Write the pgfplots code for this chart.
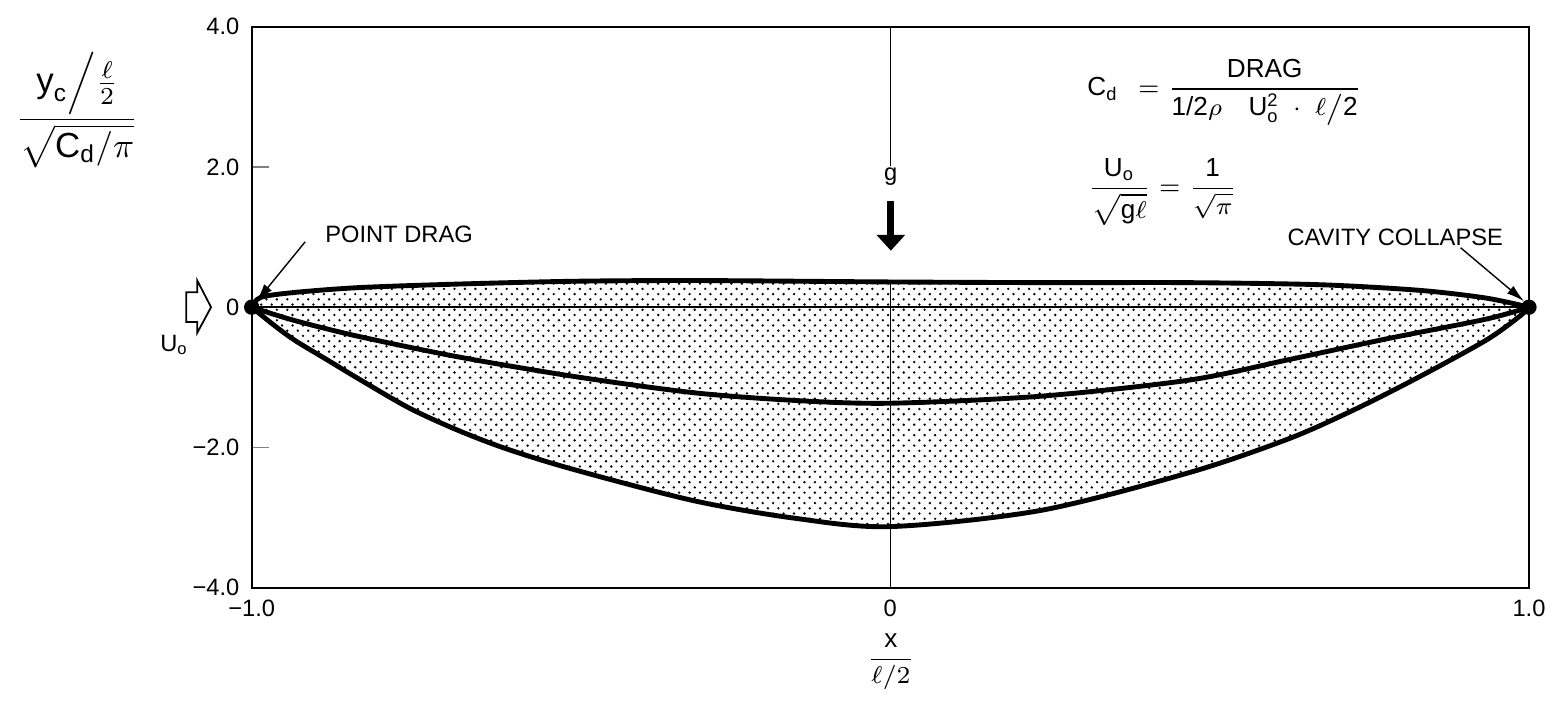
\documentclass[border=0pt]{standalone}
\usepackage{amsmath}
\usepackage{fontspec}
\setmainfont{Liberation Sans}
\usepackage{pgfplots}
\pgfplotsset{compat=1.18}
\usepackage{pgfplotstable}
\usepgfplotslibrary{fillbetween}
\usetikzlibrary{patterns,arrows.meta}

\pgfdeclarepatternformonly{finedots}{\pgfqpoint{-0.5pt}{-0.5pt}}{\pgfqpoint{2pt}{2pt}}{\pgfqpoint{3pt}{3pt}}{%
  \pgfpathcircle{\pgfqpoint{0pt}{0pt}}{0.38pt}%
  \pgfpathcircle{\pgfqpoint{1.5pt}{1.5pt}}{0.38pt}%
  \pgfusepath{fill}}

\pgfplotstableread{
x y
-1 0
-0.986 0.14
-0.933 0.21
-0.831 0.28
-0.676 0.33
-0.494 0.37
-0.3 0.38
0 0.36
0.25 0.35
0.468 0.35
0.674 0.32
0.829 0.24
0.933 0.13
1 0
}\uppercurve

\pgfplotstableread{
x y
-1 0
-0.933 -0.19
-0.831 -0.42
-0.676 -0.71
-0.494 -0.99
-0.308 -1.22
-0.15 -1.33
0 -1.37
0.235 -1.27
0.468 -1.04
0.623 -0.75
0.778 -0.45
0.933 -0.17
1 0
}\midcurve

\pgfplotstableread{
x y
-1 0
-0.966 -0.25
-0.933 -0.47
-0.882 -0.75
-0.831 -1.03
-0.753 -1.44
-0.676 -1.76
-0.598 -2.03
-0.494 -2.32
-0.308 -2.76
-0.15 -3.01
0 -3.13
0.235 -2.90
0.468 -2.36
0.623 -1.88
0.727 -1.46
0.829 -0.99
0.933 -0.47
0.984 -0.14
1 0
}\lowercurve

\newcommand{\fs}{\fontsize{6.8}{8}\selectfont}

\begin{document}
\begin{tikzpicture}
\begin{scope}[shift={(-2.54cm,5.93cm)},x=0.1mm,y=-0.1mm]
\path[use as bounding box] (0,0) rectangle (1557,700);
\end{scope}
\begin{axis}[
  at={(0,0)}, anchor=south west,
  scale only axis, width=12.89cm, height=5.66cm,
  xmin=-1, xmax=1, ymin=-4, ymax=4,
  axis line style={line width=0.55pt},
  xtick={-1,0,1}, xticklabels={−1.0,0,1.0},
  ytick={-4,-2,0,2,4}, yticklabels={−4.0,−2.0,0,2.0,4.0},
  ytick pos=left, xtick pos=bottom, tick align=inside,
  major tick length=1.7mm,
  xtick style={draw=none},
  ytick style={line width=0.5pt},
  tick label style={font=\fs},
  /pgf/number format/assume math mode=true,
  clip=false,
]
\addplot[draw=none, smooth, name path=U] table[x=x,y=y]{\uppercurve};
\addplot[draw=none, smooth, name path=L] table[x=x,y=y]{\lowercurve};
\addplot[pattern=finedots, pattern color=black, draw=none] fill between[of=U and L];
\draw[line width=0.4pt] (axis cs:-1,0) -- (axis cs:1,0);
\draw[line width=0.4pt] (axis cs:0,4) -- (axis cs:0,2.02);
\draw[line width=0.4pt] (axis cs:0,0.36) -- (axis cs:0,-4);
\addplot[line width=1.4pt, smooth] table[x=x,y=y]{\uppercurve};
\addplot[line width=1.4pt, smooth] table[x=x,y=y]{\midcurve};
\addplot[line width=1.4pt, smooth] table[x=x,y=y]{\lowercurve};
\addplot[only marks, mark=*, mark size=2pt, black] coordinates {(-1,0) (1,0)};
\end{axis}
\begin{scope}[shift={(-2.54cm,5.93cm)},x=0.1mm,y=-0.1mm]
% y label
\node[font=\fontsize{10}{12}\selectfont] at (78,111) {$\dfrac{\text{y}_{\text{c}}\Big/\frac{\ell}{2}}{\sqrt{\text{C}_{\text{d}}/\pi}}$};
% x label
\node[font=\fontsize{7.5}{9}\selectfont] at (899,668) {$\dfrac{\text{x}}{\ell/2}$};
% hollow arrow and U_o
\draw[line width=0.5pt] (188,295) -- (199,295) -- (199,283) -- (213,310) -- (199,336) -- (199,325) -- (188,325) -- cycle;
\node[font=\fs] at (176,348) {$\text{U}_{\text{o}}$};
% g arrow
\node[font=\fs] at (899,178) {g};
\draw[line width=0.7mm,-{Triangle[width=2.8mm,length=1.6mm]}] (899,203) -- (899,253);
% point drag
\node[anchor=west, font=\fs] at (316,237) {POINT DRAG};
\draw[line width=0.4pt, -{Latex[length=1.8mm,width=1mm]}] (308,244) -- (259,304);
% cavity collapse
\node[font=\fs] at (1408,240) {CAVITY COLLAPSE};
\draw[line width=0.4pt, -{Latex[length=1.8mm,width=1mm]}] (1474,250) -- (1538,304);
% formulas
\node[anchor=west, font=\fontsize{7.5}{9}\selectfont] at (1085,93) {$\text{C}_{\text{d}}\ \,=\dfrac{\text{DRAG}}{\text{1/2}\rho\quad \text{U}_{\text{o}}^{\text{2}}\ \cdot\ \ell\big/\text{2}}$};
\node[anchor=west, font=\fontsize{7.5}{9}\selectfont] at (1085,194) {$\dfrac{\text{U}_{\text{o}}}{\displaystyle\sqrt{\text{g}\ell}} = \dfrac{\text{1}}{\displaystyle\sqrt{\pi}}$};
\end{scope}
\end{tikzpicture}
\end{document}
